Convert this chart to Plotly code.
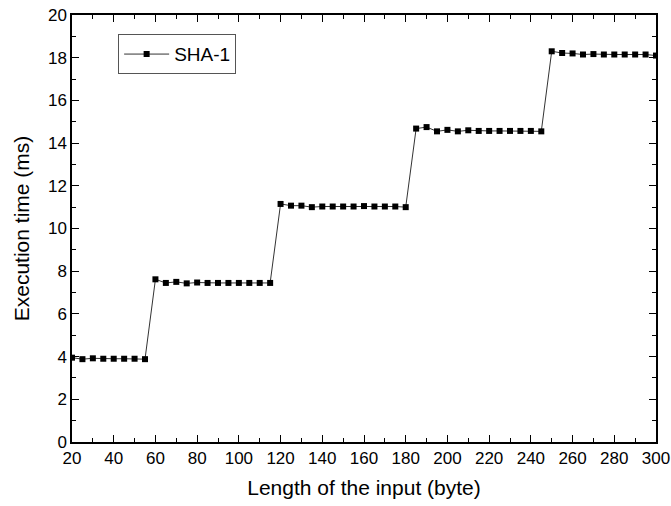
import plotly.graph_objects as go

lengths = list(range(20, 301, 5))
times = [
    3.95, 3.88, 3.92, 3.90, 3.90, 3.90, 3.90, 3.88,
    7.62, 7.45, 7.50, 7.43, 7.47, 7.45, 7.45, 7.45, 7.45, 7.45, 7.45, 7.45,
    11.15, 11.07, 11.07, 11.00, 11.03, 11.03, 11.03, 11.03, 11.05, 11.03, 11.03, 11.03, 11.00,
    14.68, 14.75, 14.55, 14.62, 14.55, 14.60, 14.57, 14.57, 14.57, 14.57, 14.57, 14.57, 14.55,
    18.30, 18.22, 18.20, 18.15, 18.17, 18.15, 18.15, 18.15, 18.15, 18.15, 18.10,
]
series_name = "SHA-1"
x_title = "Length of the input (byte)"
y_title = "Execution time (ms)"

fig = go.Figure()
fig.add_trace(go.Scatter(
    x=lengths, y=times, name=series_name, mode="lines+markers",
    line=dict(color="#333333", width=1),
    marker=dict(symbol="square", size=6, color="black"),
    showlegend=True,
))

axis_common = dict(
    showline=True, linecolor="black", linewidth=1.5, mirror="ticks",
    ticks="inside", ticklen=7, tickwidth=1.2, tickcolor="black",
    showgrid=False, zeroline=False, automargin=False,
    tickfont=dict(family="Liberation Sans, Arial", size=17, color="black"),
    title_font=dict(family="Liberation Sans, Arial", size=21, color="black"),
)

fig.update_xaxes(range=[20, 300], dtick=20, tick0=20, title_text=x_title,
                 minor=dict(ticks="inside", dtick=10, ticklen=4, tickcolor="black"),
                 title_standoff=13, **axis_common)
fig.update_yaxes(range=[0, 20], dtick=2, title_text=y_title,
                 minor=dict(ticks="inside", dtick=1, ticklen=4, tickcolor="black"),
                 title_standoff=13, **axis_common)

fig.update_layout(
    width=671, height=506,
    margin=dict(l=72, r=15, t=15, b=64),
    plot_bgcolor="white", paper_bgcolor="white",
    legend=dict(x=0.079, y=0.955, xanchor="left", yanchor="top",
                bordercolor="#555555", borderwidth=1, bgcolor="white",
                itemwidth=45,
                font=dict(family="Liberation Sans, Arial", size=19, color="black")),
)

fig.write_html("out.html", config={"displayModeBar": False},
               post_script="document.body.style.margin='0';")
